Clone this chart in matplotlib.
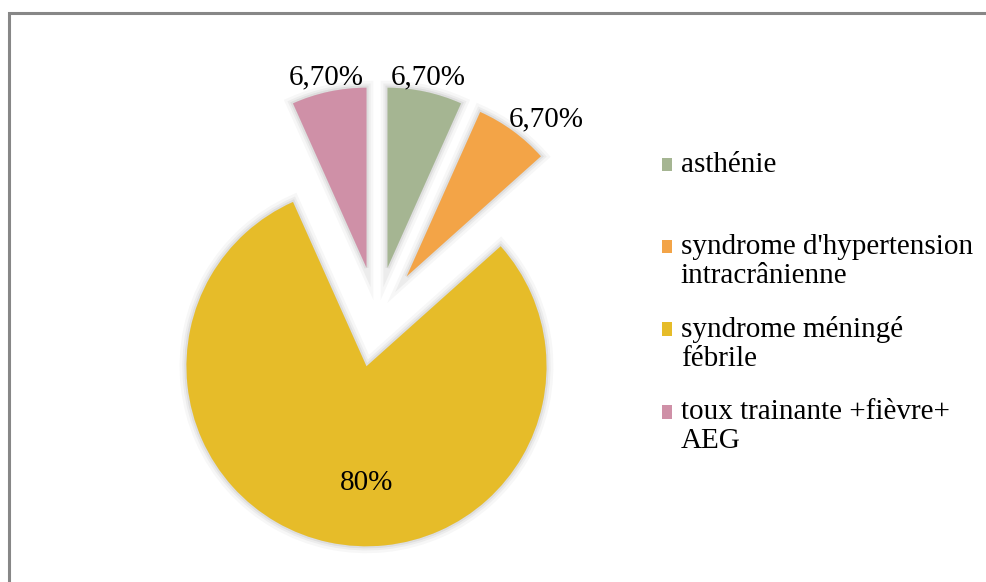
import matplotlib
matplotlib.use('agg')
import matplotlib.pyplot as plt
import matplotlib.patheffects as pe
from matplotlib.patches import Patch, Rectangle
from matplotlib.legend_handler import HandlerPatch
import numpy as np

categories = ["asthénie\n", "syndrome d'hypertension\nintracrânienne",
              "syndrome méningé\nfébrile", "toux trainante +fièvre+\nAEG"]
values = [6.7, 6.7, 80, 6.7]
value_labels = ["6,70%", "6,70%", "80%", "6,70%"]
colours = ["#A5B592", "#F3A447", "#E6BC29", "#CF90A7"]
label_dist = [1.08, 1.17, 0.65, 1.08]
label_turn = [0, -5.5, 12, 0]  # degrees, nudges label off the mid-angle

FONT = "Liberation Serif"
FS = 21

W, H = 986, 582
fig = plt.figure(figsize=(W / 100, H / 100), dpi=100)

# pie center about (377, 317) px, radius 180 px
L = 1.4
cx, cy, rpx = 377, H - 317, 180
ax = fig.add_axes([(cx - L * rpx) / W, (cy - L * rpx) / H, 2 * L * rpx / W, 2 * L * rpx / H])

shadow = [pe.Stroke(linewidth=10, foreground="k", alpha=0.03),
          pe.Stroke(linewidth=6, foreground="k", alpha=0.045),
          pe.Stroke(linewidth=3, foreground="k", alpha=0.06),
          pe.Normal()]

wedges, _ = ax.pie(values, colors=colours, startangle=90, counterclock=False,
                   explode=[0.28] * 4, radius=1, frame=True,
                   wedgeprops=dict(linewidth=0, path_effects=shadow))
ax.set_xlim(-L, L)
ax.set_ylim(-L, L)
ax.axis("off")

for w, txt, d, turn in zip(wedges, value_labels, label_dist, label_turn):
    ang = np.deg2rad((w.theta1 + w.theta2) / 2 + turn)
    x = w.center[0] + d * w.r * np.cos(ang)
    y = w.center[1] + d * w.r * np.sin(ang)
    ax.text(x, y, txt, ha="center", va="center", fontsize=FS, family=FONT)

# legend squares aligned with the first line of each label
def square(legend, orig_handle, xdescent, ydescent, width, height, fontsize):
    return Rectangle((-xdescent, -ydescent + 10.2), width, height)

handles = [Patch(facecolor=c, edgecolor="none") for c in colours]
fig.legend(handles, categories, loc="upper left", bbox_to_anchor=(662 / W, 1 - 152 / H),
           frameon=False, prop=dict(family=FONT, size=FS), handlelength=0.34,
           handleheight=0.34, handletextpad=0.3, labelspacing=0.95, borderpad=0,
           borderaxespad=0, handler_map={Patch: HandlerPatch(patch_func=square)})
for t in fig.legends[0].get_texts():
    t.set_linespacing(1.12)

# outer frame
fig.add_artist(Rectangle((9 / W, -0.1), 1.2, 1 - 13 / H + 0.1, transform=fig.transFigure,
                         fill=False, edgecolor="#878787", linewidth=2.2))

fig.savefig("out.png", dpi=100)
